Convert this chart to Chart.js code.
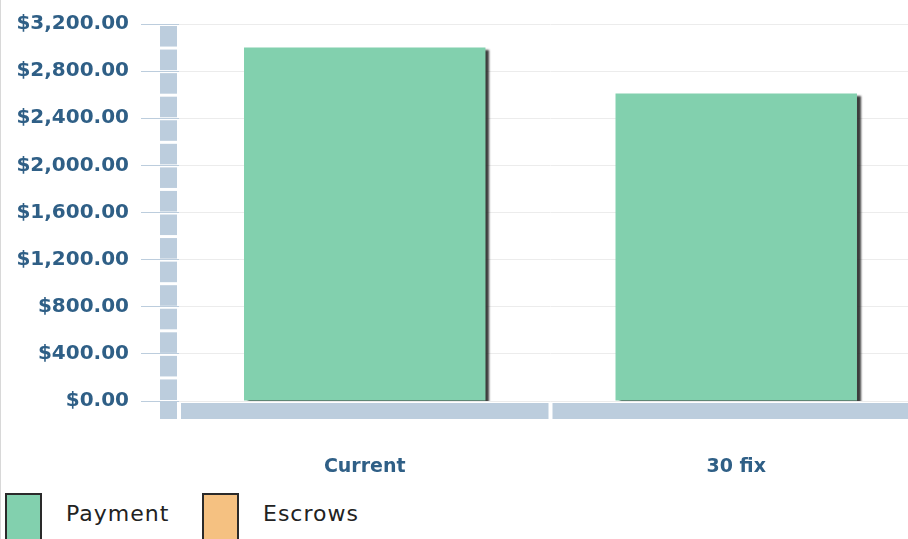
<!DOCTYPE html>
<html>
<head>
<meta charset="utf-8">
<script src="https://cdn.jsdelivr.net/npm/chart.js@4/dist/chart.umd.min.js"></script>
<style>
  html, body { margin: 0; padding: 0; background: #fff; overflow: hidden; }
  #wrap { position: relative; width: 908px; height: 539px; overflow: hidden; border-left: 1px solid #d8d8d8; box-sizing: border-box; }
  #chart { position: absolute; left: 0; top: 0; }
  #legend { position: absolute; left: 4px; top: 493px; display: flex; font-family: "DejaVu Sans", sans-serif; font-size: 22px; letter-spacing: 1px; color: #222; }
  .item { display: flex; align-items: flex-start; margin-right: 24px; }
  .box { width: 33px; height: 50px; border: 2px solid #2a2a2a; }
  .lbl { margin-left: 24px; margin-top: 8px; width: 112px; overflow: hidden; white-space: nowrap; }
</style>
</head>
<body>
<div id="wrap">
  <canvas id="chart"></canvas>
  <div id="legend"></div>
</div>
<script>
const categories = ["Current", "30 fix"];
const paymentValues = [3000, 2610];
const escrowValues = [0, 0];
const seriesNames = ["Payment", "Escrows"];
const seriesColors = ["#82d0ae", "#f5c181"];

const axisBlue = "#bccddd";
const labelBlue = "#2f5f86";

// thick segmented axis bars like the original flash chart
const axisBars = {
    id: "axisBars",
    afterDraw(chart) {
        const ctx = chart.ctx;
        const y = chart.scales.y;
        const x = chart.scales.x;
        const area = chart.chartArea;
        ctx.save();
        ctx.fillStyle = axisBlue;
        const bx = area.left - 19;
        for (let v = 0; v < y.max; v += 200) {
            const top = y.getPixelForValue(v + 200) + 2;
            const bot = y.getPixelForValue(v) - 1;
            ctx.fillRect(bx, top, 17, bot - top);
        }
        const zero = y.getPixelForValue(0);
        ctx.fillRect(bx, zero + 1, 17, 17);
        for (let i = 0; i < categories.length; i++) {
            const half = (x.getPixelForValue(1) - x.getPixelForValue(0)) / 2;
            const c = x.getPixelForValue(i);
            const l = i === 0 ? area.left + 2 : c - half + 2;
            const r = c + half - 2;
            ctx.fillRect(l, zero + 2, r - l, 16);
        }
        ctx.restore();
    }
};

const barShadow = {
    id: "barShadow",
    beforeDatasetsDraw(chart) {
        const ctx = chart.ctx;
        ctx.save();
        ctx.shadowColor = "rgba(40,40,40,0.9)";
        ctx.shadowOffsetX = 4;
        ctx.shadowOffsetY = 2;
        ctx.shadowBlur = 2;
    },
    afterDatasetsDraw(chart) {
        chart.ctx.restore();
    }
};

const canvas = document.getElementById("chart");
canvas.width = 921;
canvas.height = 480;
canvas.style.width = "921px";
canvas.style.height = "480px";

window.chartPayments = new Chart(canvas, {
    type: "bar",
    data: {
        labels: categories,
        datasets: [
            { label: seriesNames[0], data: paymentValues, backgroundColor: seriesColors[0], borderWidth: 0 },
            { label: seriesNames[1], data: escrowValues, backgroundColor: seriesColors[1], borderWidth: 0 }
        ]
    },
    options: {
        responsive: false,
        animation: false,
        layout: { padding: { top: 24, left: 15, right: 0, bottom: 0 } },
        datasets: { bar: { categoryPercentage: 1, barPercentage: 0.65 } },
        plugins: { legend: { display: false }, tooltip: { enabled: false } },
        scales: {
            x: {
                stacked: true,
                border: { display: false },
                afterFit(s) { s.height = 79; },
                grid: { color: "rgba(0,0,0,0)", tickLength: 0 },
                ticks: { padding: 55, maxRotation: 0, color: labelBlue, font: { family: "DejaVu Sans", size: 19, weight: "bold" } }
            },
            y: {
                stacked: true,
                min: 0,
                max: 3200,
                border: { display: false },
                afterFit(s) { s.width = 163; },
                grid: { color: "#ececec", tickColor: axisBlue, tickLength: 38, lineWidth: 1 },
                ticks: {
                    stepSize: 400,
                    padding: 12,
                    color: labelBlue,
                    font: { family: "DejaVu Sans", size: 20, weight: "bold" },
                    callback: v => "$" + v.toLocaleString("en-US", { minimumFractionDigits: 2, maximumFractionDigits: 2 })
                }
            }
        }
    },
    plugins: [barShadow, axisBars]
});

const legend = document.getElementById("legend");
window.chartPayments.data.datasets.forEach(ds => {
    const item = document.createElement("div");
    item.className = "item";
    item.innerHTML = '<div class="box" style="background:' + ds.backgroundColor + '"></div><div class="lbl">' + ds.label + '</div>';
    legend.appendChild(item);
});
</script>
</body>
</html>
